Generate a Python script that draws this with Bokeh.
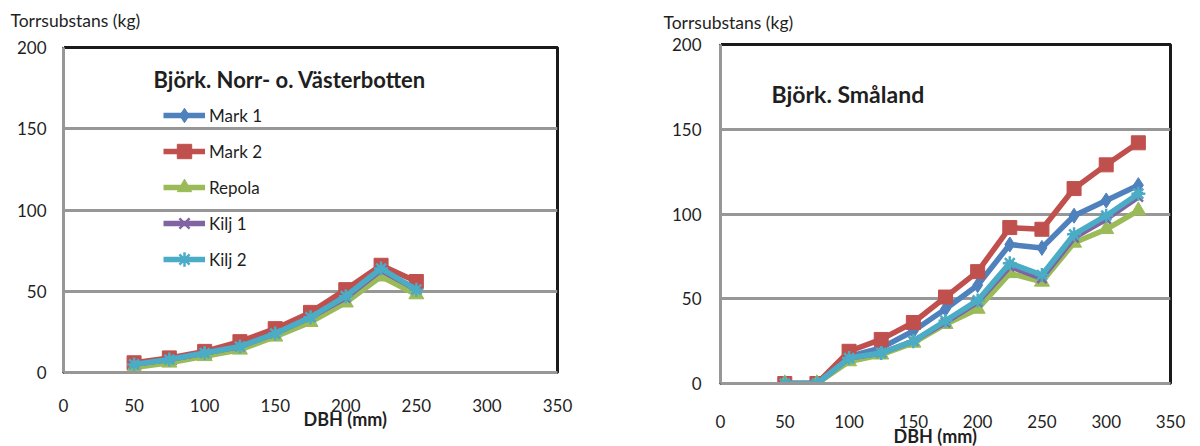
from bokeh.plotting import figure
from bokeh.models import (Range1d, FixedTicker, Label, Legend, LegendItem, Title, LinearAxis)
from bokeh.layouts import row, column
from bokeh.embed import file_html
from bokeh.resources import INLINE

# ---- data ----
dbh_left = [50, 75, 100, 125, 150, 175, 200, 225, 250]
mark1_left = [5, 8, 12, 17, 25, 35, 48, 61, 52]
mark2_left = [6, 9, 13, 19, 27, 37, 51, 66, 56]
repola_left = [3, 6, 10, 14, 22, 31, 43, 59, 48]
kilj1_left = [5, 8, 12, 16, 24, 34, 46, 63, 51]
kilj2_left = [5, 8, 12, 16, 24, 34, 47, 64, 51]

dbh_right = [50, 75, 100, 125, 150, 175, 200, 225, 250, 275, 300, 325]
mark1_right = [0, 0, 16, 21, 31, 44, 58, 82, 80, 99, 108, 117]
mark2_right = [0, 0, 19, 26, 36, 51, 66, 92, 91, 115, 129, 142]
repola_right = [0, 0, 13, 17, 24, 35, 44, 65, 60, 83, 91, 102]
kilj1_right = [0, 0, 15, 18, 25, 36, 48, 69, 62, 86, 97, 110]
kilj2_right = [0, 0, 15, 18, 25, 37, 49, 71, 64, 88, 99, 112]

series_names = ["Mark 1", "Mark 2", "Repola", "Kilj 1", "Kilj 2"]
colors = ["#4F81BD", "#C0504D", "#9BBB59", "#8064A2", "#4BACC6"]
markers = ["diamond", "square", "triangle", "x", "asterisk"]
marker_sizes = [15, 14, 15, 13, 14]

x_ticks = [0, 50, 100, 150, 200, 250, 300, 350]
y_ticks = [0, 50, 100, 150, 200]

FONT = "Lato"
GRID = "#979797"
TXT = "#1f1f1f"
FRAME = "#1a1a1a"


def make_fig(width, bl, br, bt, bb, xstand, ystand, top_gap):
    p = figure(width=width, height=446, output_backend="svg", toolbar_location=None,
               x_range=Range1d(0, 350), y_range=Range1d(0, 200),
               min_border_left=bl, min_border_right=br, min_border_top=bt,
               min_border_bottom=bb, title=None)
    p.outline_line_color = FRAME
    p.outline_line_width = 3
    p.background_fill_color = "white"
    p.border_fill_color = "white"
    p.xgrid.grid_line_color = None
    p.ygrid.grid_line_color = GRID
    p.ygrid.grid_line_width = 3
    p.ygrid.ticker = FixedTicker(ticks=[50, 100, 150])
    for ax, ticks, st in ((p.xaxis[0], x_ticks, xstand), (p.yaxis[0], y_ticks, ystand)):
        ax.ticker = FixedTicker(ticks=ticks)
        ax.axis_line_color = GRID
        ax.axis_line_width = 3
        ax.major_tick_line_color = None
        ax.minor_tick_line_color = None
        ax.major_tick_in = 0
        ax.major_tick_out = 0
        ax.major_label_standoff = st
        ax.major_label_text_font = FONT
        ax.major_label_text_font_size = "17px"
        ax.major_label_text_color = TXT
    # top frame edge as an axis; its invisible tick spaces the unit label upwards
    top = LinearAxis(ticker=FixedTicker(ticks=[0]), axis_line_color=FRAME, axis_line_width=3,
                     major_tick_line_color="white", major_tick_line_width=1,
                     minor_tick_line_color=None, major_tick_in=0, major_tick_out=top_gap,
                     major_label_standoff=0, major_label_overrides={0: ""},
                     major_label_text_color="white", major_label_text_font_size="1px")
    p.add_layout(top, "above")
    return p


def add_series(p, xs, ys_list):
    items = []
    for name, ys, c, m, s in zip(series_names, ys_list, colors, markers, marker_sizes):
        lr = p.line(xs, ys, line_color=c, line_width=5.5)
        sr = p.scatter(xs, ys, marker=m, size=s, fill_color=c, line_color=c,
                       line_width=2.5 if m in ("x", "asterisk") else 1)
        items.append(LegendItem(label=name, renderers=[lr, sr]))
    return items


def side_title(text, offset, standoff, bold=False, size="17px"):
    t = Title(text=text, align="left", offset=offset,
              text_font=FONT, text_font_size=size, text_color=TXT,
              text_font_style="bold" if bold else "normal")
    try:
        t.standoff = standoff
    except ValueError:
        t.standoff = 0
    return t


# ---- left chart ----
pL = make_fig(600, 63, 43, 47, 74, 26, 17, 12)
itemsL = add_series(pL, dbh_left, [mark1_left, mark2_left, repola_left, kilj1_left, kilj2_left])
leg = Legend(items=itemsL, location=(100, 95), glyph_width=42, glyph_height=36,
             spacing=0, padding=0, margin=0, label_standoff=4,
             label_text_font=FONT, label_text_font_size="17px", label_text_color=TXT,
             border_line_color=None, background_fill_alpha=0)
pL.add_layout(leg, "center")
pL.add_layout(side_title("Torrsubstans (kg)", -53, 10, size="17.5px"), "above")
pL.add_layout(side_title("DBH (mm)", 240, -18, bold=True, size="18px"), "below")
pL.add_layout(Label(x=63.8, y=180.3, text="Björk. Norr- o. Västerbotten", text_font=FONT,
                    text_font_size="22px", text_font_style="bold", text_color=TXT,
                    text_baseline="middle"))

# ---- right chart ----
pR = make_fig(600, 120, 30, 44, 63, 31, 19, 7)
add_series(pR, dbh_right, [mark1_right, mark2_right, repola_right, kilj1_right, kilj2_right])
pR.add_layout(side_title("Torrsubstans (kg)", -57, 10, size="17.5px"), "above")
pR.add_layout(side_title("DBH (mm)", 173, -16, bold=True, size="18px"), "below")
pR.add_layout(Label(x=39.7, y=171, text="Björk. Småland", text_font=FONT,
                    text_font_size="23px", text_font_style="bold", text_color=TXT,
                    text_baseline="middle"))

layout = row(column(pL), column(pR))
open("out.html", "w").write(file_html(layout, INLINE))
